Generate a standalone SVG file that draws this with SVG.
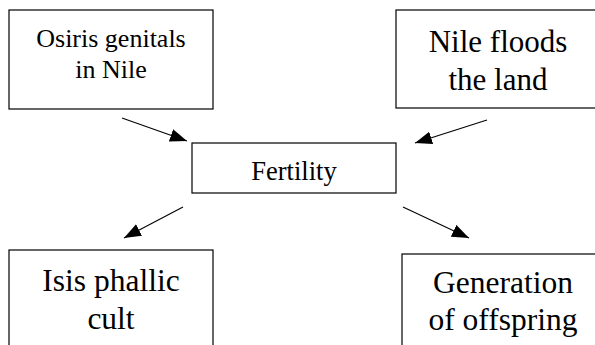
<svg xmlns="http://www.w3.org/2000/svg" width="595" height="345" viewBox="0 0 595 345">
<style>
.box{fill:#fff;stroke:#000;stroke-width:1.2}
.t{font-family:"Liberation Serif","Times New Roman",serif;fill:#000;text-anchor:middle}
.c{stroke:#000;stroke-width:1.1;fill:none;marker-end:url(#ah)}
</style>
<defs>
<marker id="ah" markerUnits="userSpaceOnUse" markerWidth="18" markerHeight="14" viewBox="0 0 18 14" refX="17" refY="7" orient="auto">
<path d="M0,0.5 L17,7 L0,13.5 Z" fill="#000"/>
</marker>
</defs>
<rect width="595" height="345" fill="#fff"/>
<g id="connectors">
<line class="c" x1="122" y1="118" x2="187" y2="141"/>
<line class="c" x1="487" y1="120" x2="415" y2="143"/>
<line class="c" x1="183" y1="207" x2="124" y2="238"/>
<line class="c" x1="403" y1="207" x2="469" y2="238"/>
</g>
<g id="n1">
<rect class="box" x="9" y="10" width="204" height="99"/>
<text class="t" font-size="26" x="111" y="47">Osiris genitals</text>
<text class="t" font-size="26" x="111" y="78">in Nile</text>
</g>
<g id="n2">
<rect class="box" x="396" y="10" width="210" height="98"/>
<text class="t" font-size="31" x="498" y="52">Nile floods</text>
<text class="t" font-size="31" x="498" y="90">the land</text>
</g>
<g id="n3">
<rect class="box" x="192" y="143" width="204" height="50"/>
<text class="t" font-size="26.5" x="294" y="180">Fertility</text>
</g>
<g id="n4">
<rect class="box" x="9" y="250" width="204" height="110"/>
<text class="t" font-size="31.5" x="111" y="291">Isis phallic</text>
<text class="t" font-size="31.5" x="111" y="329">cult</text>
</g>
<g id="n5">
<rect class="box" x="402" y="254" width="210" height="110"/>
<text class="t" font-size="31.5" x="503" y="293">Generation</text>
<text class="t" font-size="31.5" x="503" y="330">of offspring</text>
</g>
</svg>
